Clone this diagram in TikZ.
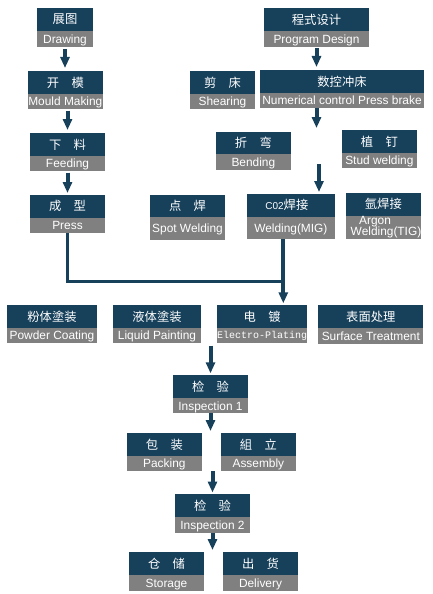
\documentclass[tikz,border=0pt]{standalone}
\usepackage{fontspec}
\setmainfont{Liberation Sans}
\newfontfamily\cjk{Noto Sans CJK SC}
\newfontfamily\monof{Liberation Mono}
\usetikzlibrary{arrows.meta,fit}
\definecolor{dk}{RGB}{23,64,91}
\definecolor{gy}{RGB}{128,128,128}
\tikzset{
  cn/.style={text=white, inner sep=0pt, font=\cjk\fontsize{12.3}{12.3}\selectfont},
  en/.style={text=white, inner sep=0pt, anchor=base, font=\fontsize{11.9}{11.9}\selectfont},
  arr/.style={draw=dk, line width=4pt, -{Triangle[width=9pt,length=11pt]}},
  joinline/.style={draw=dk, line width=3.5pt},
}
\newcommand{\flowbox}[8]{%
  \fill[dk] (#2,#3) rectangle (#4,#5);
  \fill[gy] (#2,#5) rectangle (#4,#6);
  \node[fit={(#2,#3)(#4,#6)}, inner sep=0pt, outer sep=0pt] (#1) {};
  \node[cn] (#1-c) at ({(#2+#4)/2},{(#3+#5)/2}) {#7};
  \node[en] (#1-e) at ({(#2+#4)/2},{(#5+#6)/2+4.4}) {#8};
}
\begin{document}
\begin{tikzpicture}[x=1pt,y=-1pt]
\fill[white] (0,0) rectangle (432,594);
\useasboundingbox (0,0) rectangle (432,594);

\flowbox{draw}{37}{8}{93}{31}{47}{展图}{Drawing}
\flowbox{mould}{28}{71}{102.7}{94}{108.7}{开　模}{Mould Making}
\flowbox{feed}{30}{133}{105}{155.7}{170.7}{下　料}{Feeding}
\flowbox{press}{30}{195}{105}{217.7}{233}{成　型}{Press}
\flowbox{prog}{264}{8}{369}{31}{46.7}{程式设计}{Program Design}
\flowbox{shear}{190}{71}{255}{94}{108.7}{剪　床}{Shearing}
\flowbox{num}{260}{70}{424}{93}{107.7}{数控冲床}{Numerical control Press brake}
\flowbox{bend}{216}{132}{290.7}{154}{169.7}{折　弯}{Bending}
\flowbox{stud}{342}{130}{416.7}{153}{167.7}{植　钉}{Stud welding}
\flowbox{spot}{150}{195}{225}{217}{239.5}{点　焊}{Spot Welding}
\flowbox{mig}{246.7}{194}{335}{216.7}{239.3}{\hspace*{-8pt}{\rmfamily\fontsize{10}{10}\selectfont C02}焊接}{Welding(MIG)}
\flowbox{argon}{346}{192.7}{420.7}{215.7}{239.3}{氩焊接}{}
\node[en] (argon-e1) at (375,224.5) {Argon};
\node[en] (argon-e2) at (386,235.5) {Welding(TIG)};
\flowbox{powder}{7.3}{305}{96.7}{327.7}{342.7}{粉体塗装}{Powder Coating}
\flowbox{liquid}{113.3}{305}{200.7}{327.7}{342.7}{液体塗装}{Liquid Painting}
\flowbox{plate}{217}{305}{307.3}{327.7}{342.7}{电　镀}{\monof\fontsize{10}{10}\selectfont\raisebox{1.5pt}{Electro-Plating}}
\flowbox{surf}{318.3}{305}{423.3}{327.7}{343.7}{表面处理}{Surface Treatment}
\flowbox{insp1}{173.3}{375}{247.7}{398.3}{413.3}{检　验}{Inspection 1}
\flowbox{pack}{127}{433}{201.7}{456}{470.7}{包　装}{Packing}
\flowbox{asm}{221}{433}{295.7}{456}{470.7}{組　立}{Assembly}
\flowbox{insp2}{175}{494}{250}{516.7}{532.7}{检　验}{Inspection 2}
\flowbox{store}{129}{552}{204}{575}{590.7}{仓　储}{Storage}
\flowbox{deliv}{223}{552}{298}{575}{590.7}{出　货}{Delivery}

% free ends
\coordinate (c1) at (316.5,128);
\coordinate (c2) at (319,164);
\coordinate (j) at (283.3,281.7);
\coordinate (c3) at (210.5,431);
\coordinate (c4) at (212.5,471);
\coordinate (c5) at (212.5,550);

% arrows
\draw[arr, shorten <=2pt, shorten >=3pt] (draw.south) -- (draw.south |- mould.north);
\draw[arr, shorten <=2pt, shorten >=3pt] (feed.north |- mould.south) -- (feed.north);
\draw[arr, shorten <=2pt, shorten >=2pt] (feed.south) -- (press.north);
\draw[arr, shorten <=1.5pt, shorten >=3pt] (prog.south) -- (prog.south |- num.north);
\draw[arr, shorten <=0.5pt] (prog.south |- num.south) -- (c1);
\draw[arr, shorten >=2pt] (c2) -- (c2 |- mig.north);
\draw[joinline] (press.south) |- (j);
\draw[arr, shorten >=1.7pt] (j |- mig.south) -- (j |- plate.north);
\draw[arr, shorten <=3pt, shorten >=1.7pt] (insp1.north |- plate.south) -- (insp1.north);
\draw[arr] (insp1.south) -- (c3);
\draw[arr, shorten >=1.5pt] (c4) -- (c4 |- insp2.north);
\draw[arr] (insp2.south) -- (c5);
\end{tikzpicture}
\end{document}
